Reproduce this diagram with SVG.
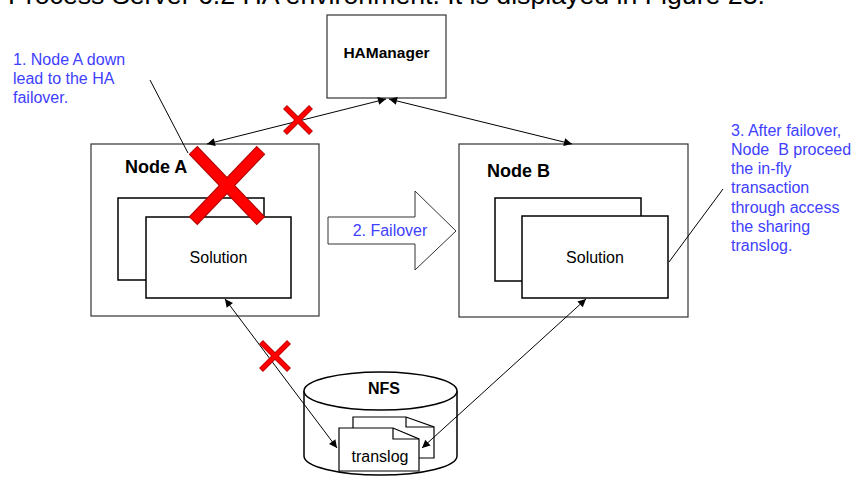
<svg xmlns="http://www.w3.org/2000/svg" width="855" height="477" viewBox="0 0 855 477">
<style>
text{font-family:"Liberation Sans",Arial,sans-serif;}
.box{fill:#fff;stroke:#333;stroke-width:1.2}
.inner{fill:#fff;stroke:#000;stroke-width:1.5}
.bold{font-weight:bold;fill:#000}
.lbl{font-size:16px;fill:#000}
.note{font-size:16px;fill:#4040ff}
.con{stroke:#000;stroke-width:1;fill:none}
.xs{stroke:#ff0000;stroke-width:4;stroke-linecap:butt}
.xb{stroke:#ff0000;stroke-width:10;stroke-linecap:butt}
</style>
<defs>
<marker id="ah" viewBox="0 0 10 10" refX="10" refY="5" markerWidth="11" markerHeight="8" markerUnits="userSpaceOnUse" orient="auto-start-reverse">
<path d="M0,0 L10,5 L0,10 z" fill="#000"/>
</marker>
</defs>
<rect width="855" height="477" fill="#fff"/>
<text x="8" y="4" font-size="26" textLength="757" lengthAdjust="spacingAndGlyphs" fill="#000">Process Server 6.2 HA environment. It is displayed in Figure 23.</text>

<g id="hamanager">
<rect class="box" x="327" y="15" width="119" height="83"/>
<text class="bold" x="386.5" y="58" font-size="15.5" text-anchor="middle">HAManager</text>
</g>

<g id="nodeA">
<rect class="box" x="91" y="144" width="228" height="172"/>
<text class="bold" x="125" y="173" font-size="18">Node A</text>
<rect class="inner" x="118" y="198" width="146" height="82"/>
<rect class="inner" x="146" y="217" width="145" height="81"/>
<text class="lbl" x="218.5" y="263" text-anchor="middle">Solution</text>
</g>

<g id="nodeB">
<rect class="box" x="459" y="144" width="229" height="173"/>
<text class="bold" x="487" y="177" font-size="18">Node B</text>
<rect class="inner" x="495" y="198" width="146" height="83"/>
<rect class="inner" x="522" y="216" width="146" height="82"/>
<text class="lbl" x="595" y="263" text-anchor="middle">Solution</text>
</g>

<g id="failover">
<path d="M328,217 H415 V191 L456,231 L415,270 V244 H328 Z" fill="#fff" stroke="#333" stroke-width="1"/>
<text class="note" x="390" y="236" text-anchor="middle">2. Failover</text>
</g>

<g id="nfs">
<path d="M304,391 V456 A76.5,19 0 0 0 457,456 V391" fill="#fff" stroke="#000" stroke-width="1.5"/>
<ellipse cx="380.5" cy="391" rx="76.5" ry="19" fill="#fff" stroke="#000" stroke-width="1.5"/>
<text class="bold" x="384" y="394" font-size="16" text-anchor="middle">NFS</text>
</g>

<g id="translog">
<path d="M353,417 H406 L434,427 V458 H353 Z" fill="#fff" stroke="#000" stroke-width="1.2"/>
<path d="M406,417 V427 H434" fill="none" stroke="#000" stroke-width="1.2"/>
<path d="M339,428 H393 L419,439 V471 H339 Z" fill="#fff" stroke="#000" stroke-width="1.2"/>
<path d="M393,428 V439 H419" fill="none" stroke="#000" stroke-width="1.2"/>
<text class="lbl" x="380" y="462" text-anchor="middle">translog</text>
</g>

<g id="connectors">
<line class="con" x1="207" y1="144" x2="386" y2="99" marker-start="url(#ah)" marker-end="url(#ah)"/>
<line class="con" x1="389" y1="99" x2="572" y2="144" marker-start="url(#ah)" marker-end="url(#ah)"/>
<line class="con" x1="225" y1="299" x2="337" y2="448" marker-start="url(#ah)" marker-end="url(#ah)"/>
<line class="con" x1="422" y1="448" x2="586" y2="299" marker-start="url(#ah)" marker-end="url(#ah)"/>
<line class="con" x1="150" y1="80" x2="188" y2="153"/>
<line class="con" x1="723" y1="189" x2="669" y2="262"/>
</g>

<g id="crosses">
<g stroke="#b00000" stroke-width="12"><line x1="193" y1="150" x2="261" y2="221"/><line x1="261" y1="150" x2="193" y2="221"/></g>
<g class="xb"><line x1="193.6" y1="150.6" x2="260.4" y2="220.4"/><line x1="260.4" y1="150.6" x2="193.6" y2="220.4"/></g>
<g stroke="#b00000" stroke-width="5.5"><line x1="285" y1="107" x2="311" y2="133"/><line x1="311" y1="107" x2="285" y2="133"/></g>
<g class="xs"><line x1="285.5" y1="107.5" x2="310.5" y2="132.5"/><line x1="310.5" y1="107.5" x2="285.5" y2="132.5"/></g>
<g stroke="#b00000" stroke-width="5.5"><line x1="261" y1="342" x2="289" y2="370"/><line x1="289" y1="342" x2="261" y2="370"/></g>
<g class="xs"><line x1="261.5" y1="342.5" x2="288.5" y2="369.5"/><line x1="288.5" y1="342.5" x2="261.5" y2="369.5"/></g>
</g>

<g id="note1">
<text class="note" x="13" y="65">1. Node A down</text>
<text class="note" x="13" y="84">lead to the HA</text>
<text class="note" x="13" y="103">failover.</text>
</g>

<g id="note3">
<text class="note" x="731" y="136">3. After failover,</text>
<text class="note" x="731" y="155" xml:space="preserve">Node  B proceed</text>
<text class="note" x="731" y="174">the in-fly</text>
<text class="note" x="731" y="193">transaction</text>
<text class="note" x="731" y="213">through access</text>
<text class="note" x="731" y="232">the sharing</text>
<text class="note" x="731" y="251">translog.</text>
</g>
</svg>
